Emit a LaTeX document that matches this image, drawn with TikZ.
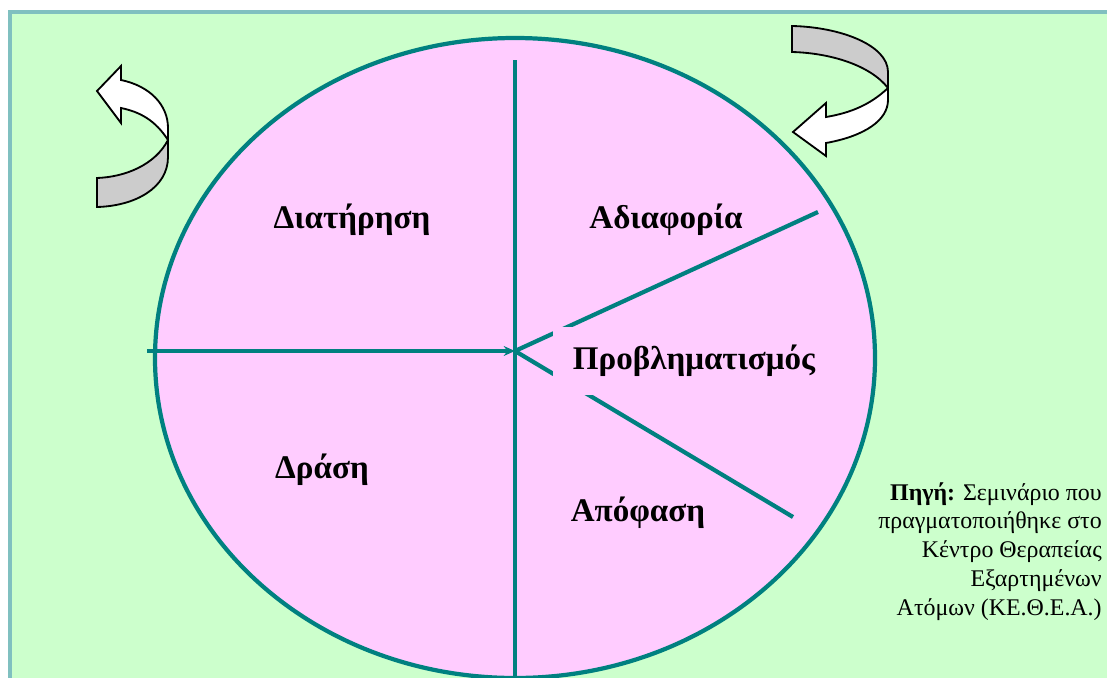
\documentclass[tikz,border=0pt]{standalone}
\usepackage{fontspec}
\setmainfont{Liberation Serif}
\usetikzlibrary{arrows.meta}
\definecolor{bggreen}{HTML}{CCFFCC}
\definecolor{segpink}{HTML}{FFCCFF}
\definecolor{rimteal}{HTML}{008080}
\definecolor{frameteal}{HTML}{80C0C0}
\definecolor{ribbongray}{HTML}{CCCCCC}
\begin{document}
\begin{tikzpicture}[x=0.025cm, y=-0.025cm,
        divider/.style={rimteal, line width=3pt},
        stage/.style={font=\fontsize{23.5}{28}\selectfont\bfseries},
        ribbon/.style={draw=black, line width=1.3pt, line join=miter}]
    \useasboundingbox (0,0) rectangle (1107,678);
    \fill[bggreen] (10,12) rectangle (1107,678);
    \draw[frameteal, line width=3.5pt] (8,12) -- (1107,12);
    \draw[frameteal, line width=3.5pt] (10,10) -- (10,678);
    \coordinate (ctr) at (515,351);
    \coordinate (top) at (515,60);
    \coordinate (bot) at (515,678);
    \coordinate (lft) at (147,351);
    \coordinate (upr) at (818,212);
    \coordinate (lwr) at (793,517);
    \draw[divider, fill=segpink] (515,358) ellipse [x radius=360, y radius=320];
    \draw[divider] (top) -- (bot);
    \draw[divider] (ctr) -- (upr);
    \draw[divider] (ctr) -- (lwr);
    \draw[divider, -{Stealth[length=8pt, width=7pt]}] (lft) -- (ctr);
    \node[stage] (keep) at (352,220) {Διατήρηση};
    \node[stage] (indiff) at (666,220) {Αδιαφορία};
    \node[stage, fill=segpink, anchor=west, minimum height=48pt, inner xsep=14pt] (doubt) at (553,361) {Προβληματισμός};
    \node[stage] (act) at (322,470) {Δράση};
    \node[stage] (decide) at (638,513) {Απόφαση};
    \node[anchor=north east, align=right, inner sep=0pt, font=\fontsize{17}{20.5}\selectfont] (src) at (1102,482)
        {\textbf{Πηγή:} Σεμινάριο που\\πραγματοποιήθηκε στο\\Κέντρο Θεραπείας\\Εξαρτημένων\\Ατόμων (ΚΕ.Θ.Ε.Α.)};
    \draw[ribbon, fill=white] (168,140) .. controls (155,120) and (140,112) .. (121,108) -- (121,123) -- (97,91)
        -- (121,66) -- (121,80) .. controls (150,86) and (168,105) .. (168,128) -- cycle;
    \draw[ribbon, fill=ribbongray] (168,140) .. controls (155,165) and (125,177) .. (97,178) -- (97,207)
        .. controls (135,206) and (168,188) .. (168,157) -- cycle;
    \draw[ribbon, fill=ribbongray] (792,26) .. controls (840,27) and (888,45) .. (888,72) -- (888,88)
        .. controls (870,65) and (830,53) .. (792,52) -- cycle;
    \draw[ribbon, fill=white] (888,88) .. controls (870,105) and (850,113) .. (826,117) -- (826,103) -- (793,132)
        -- (826,156) -- (826,143) .. controls (865,136) and (888,120) .. (888,100) -- cycle;
\end{tikzpicture}
\end{document}
